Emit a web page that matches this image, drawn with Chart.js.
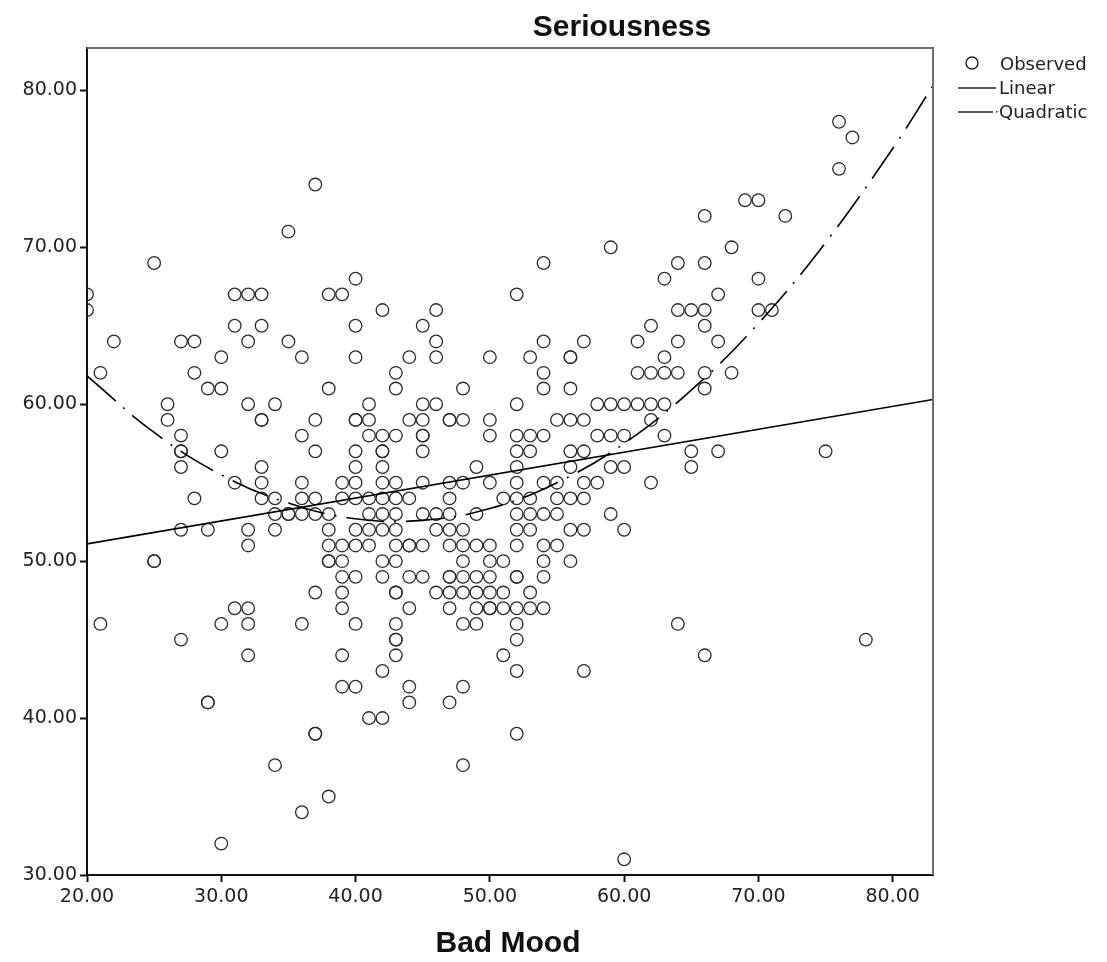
<!DOCTYPE html>
<html>
<head>
<meta charset="utf-8">
<script src="https://cdn.jsdelivr.net/npm/chart.js@4.4.1/dist/chart.umd.min.js"></script>
<style>
  html, body { margin: 0; padding: 0; background: #fff; }
  #wrap { width: 1107px; height: 962px; }
</style>
</head>
<body>
<div id="wrap"><canvas id="curveFit" width="1107" height="962"></canvas></div>
<script>
// Bad Mood scores (x) and the Seriousness scores observed at each of them (y)
const moodLevels = [20, 21, 22, 25, 26, 27, 28, 29, 30, 31, 32, 33, 34, 35, 36, 37, 38, 39, 40,
  41, 42, 43, 44, 45, 46, 47, 48, 49, 50, 51, 52, 53, 54, 55, 56, 57, 58, 59, 60,
  61, 62, 63, 64, 65, 66, 67, 68, 69, 70, 71, 72, 75, 76, 77, 78];
const seriousnessByMood = [
  [67, 66], [62, 46], [64], [69, 50, 50], [60, 59],
  [64, 58, 57, 57, 56, 52, 45], [64, 62, 54], [61, 52, 41, 41], [63, 61, 57, 46, 32],
  [67, 65, 55, 47], [67, 64, 60, 52, 51, 47, 46, 44], [67, 65, 59, 59, 56, 55, 54],
  [60, 54, 53, 52, 37], [71, 64, 53, 53], [63, 58, 55, 54, 53, 46, 34],
  [74, 59, 57, 54, 53, 48, 39, 39], [67, 61, 53, 52, 51, 50, 50, 35],
  [67, 55, 54, 51, 50, 49, 48, 47, 44, 42],
  [68, 65, 63, 59, 59, 57, 56, 55, 54, 52, 51, 49, 46, 42],
  [60, 59, 58, 54, 53, 52, 51, 40],
  [66, 58, 57, 57, 56, 55, 54, 53, 52, 50, 49, 43, 40],
  [62, 61, 58, 55, 54, 53, 52, 51, 50, 48, 48, 46, 45, 45, 44],
  [63, 59, 54, 51, 51, 49, 47, 42, 41],
  [65, 60, 59, 58, 58, 57, 55, 53, 51, 49],
  [66, 64, 63, 60, 53, 52, 48],
  [59, 59, 55, 54, 53, 52, 51, 49, 49, 48, 47, 41],
  [61, 59, 55, 52, 51, 50, 49, 48, 46, 42, 37],
  [56, 53, 51, 49, 48, 47, 46],
  [63, 59, 58, 55, 51, 50, 49, 48, 47, 47],
  [54, 50, 48, 47, 44],
  [67, 60, 58, 57, 56, 55, 54, 53, 52, 51, 49, 49, 47, 46, 45, 43, 39],
  [63, 58, 57, 54, 53, 52, 48, 47],
  [69, 64, 62, 61, 58, 55, 53, 51, 50, 49, 47],
  [59, 55, 54, 53, 51],
  [63, 63, 61, 59, 57, 56, 54, 52, 50],
  [64, 59, 57, 55, 54, 52, 43],
  [60, 58, 55], [70, 60, 58, 56, 53], [60, 58, 56, 52, 31],
  [64, 62, 60], [65, 62, 60, 59, 55], [68, 63, 62, 60, 58], [69, 66, 64, 62, 46],
  [66, 57, 56], [72, 69, 66, 65, 62, 61, 44], [67, 64, 57], [70, 62], [73],
  [73, 68, 66], [66], [72], [57], [78, 75], [77], [45]
];

// fitted curves
const linearX = [20, 83];
const linearY = [51.1, 60.3];
const quadX = [20, 25, 30, 35, 40, 45, 50, 55, 60, 65, 70, 75, 80, 83];
const quadY = [61.8, 58.2, 55.5, 53.7, 52.7, 52.6, 53.35, 55.0, 57.5, 60.9, 65.15, 70.3, 76.3, 80.3];

const xTicks = [20, 30, 40, 50, 60, 70, 80];
const yTicks = [30, 40, 50, 60, 70, 80];

const observed = [];
moodLevels.forEach((m, i) => {
  seriousnessByMood[i].forEach((s) => observed.push({ x: m, y: s }));
});
const linearPts = linearX.map((x, i) => ({ x, y: linearY[i] }));
const quadPts = quadX.map((x, i) => ({ x, y: quadY[i] }));

const tickFont = { family: "DejaVu Sans", size: 19 };
const quadDash = [38, 10, 2, 10];

// title, axis title, outer frame and legend drawn by hand
const spssDecor = {
  id: "spssDecor",
  afterDraw(chart) {
    const { ctx, chartArea: a } = chart;
    ctx.save();

    // top + right frame lines
    ctx.strokeStyle = "#6e6e6e";
    ctx.lineWidth = 2;
    ctx.beginPath();
    ctx.moveTo(a.left, a.top);
    ctx.lineTo(a.right, a.top);
    ctx.lineTo(a.right, a.bottom);
    ctx.stroke();

    ctx.fillStyle = "#111";
    ctx.textAlign = "center";
    ctx.textBaseline = "middle";
    ctx.font = "bold 30px 'Liberation Sans'";
    ctx.fillText("Seriousness", 622, 28);
    ctx.fillText("Bad Mood", 508, 944);

    // legend
    ctx.font = "18px 'DejaVu Sans'";
    ctx.textAlign = "left";
    ctx.fillStyle = "#222";
    ctx.strokeStyle = "#222";
    ctx.lineWidth = 1.4;
    ctx.beginPath();
    ctx.arc(972, 63, 6, 0, Math.PI * 2);
    ctx.stroke();
    ctx.fillText("Observed", 1000, 65);

    ctx.lineWidth = 1.6;
    ctx.beginPath();
    ctx.moveTo(958, 88);
    ctx.lineTo(996, 88);
    ctx.stroke();
    ctx.fillText("Linear", 999, 89);

    ctx.beginPath();
    ctx.moveTo(958, 112);
    ctx.lineTo(993, 112);
    ctx.stroke();
    ctx.fillRect(996, 111, 1.5, 1.5);
    ctx.fillText("Quadratic", 999, 113);

    ctx.restore();
  },
};

new Chart(document.getElementById("curveFit"), {
  type: "scatter",
  data: {
    datasets: [
      {
        label: "Linear",
        data: linearPts,
        showLine: true,
        borderColor: "#000",
        borderWidth: 1.6,
        pointRadius: 0,
      },
      {
        label: "Quadratic",
        data: quadPts,
        showLine: true,
        borderColor: "#000",
        borderWidth: 1.6,
        borderDash: quadDash,
        tension: 0.4,
        pointRadius: 0,
      },
      {
        label: "Observed",
        data: observed,
        pointStyle: "circle",
        pointRadius: 6.3,
        borderWidth: 1.3,
        borderColor: "#2b2b2b",
        backgroundColor: "rgba(0,0,0,0)",
      },
    ],
  },
  options: {
    responsive: false,
    animation: false,
    layout: { padding: { top: 48, right: 174, left: 0, bottom: 0 } },
    plugins: {
      legend: { display: false },
      tooltip: { enabled: false },
      title: { display: false },
    },
    scales: {
      x: {
        type: "linear",
        min: 20,
        max: 83,
        afterBuildTicks: (s) => { s.ticks = xTicks.map((v) => ({ value: v })); },
        afterFit: (s) => { s.height = 87; },
        ticks: {
          callback: (v) => Number(v).toFixed(2),
          font: tickFont,
          color: "#222",
          padding: 4,
          maxRotation: 0,
          autoSkip: false,
        },
        grid: { drawOnChartArea: false, tickLength: 7, tickWidth: 2, color: "#111" },
        border: { color: "#111", width: 2 },
      },
      y: {
        type: "linear",
        min: 30,
        max: 82.7,
        afterBuildTicks: (s) => { s.ticks = yTicks.map((v) => ({ value: v })); },
        afterFit: (s) => { s.width = 87; },
        ticks: {
          callback: (v) => Number(v).toFixed(2),
          font: tickFont,
          color: "#222",
          padding: 3,
          autoSkip: false,
        },
        grid: { drawOnChartArea: false, tickLength: 7, tickWidth: 2, color: "#111" },
        border: { color: "#111", width: 2 },
      },
    },
  },
  plugins: [spssDecor],
});
</script>
</body>
</html>
